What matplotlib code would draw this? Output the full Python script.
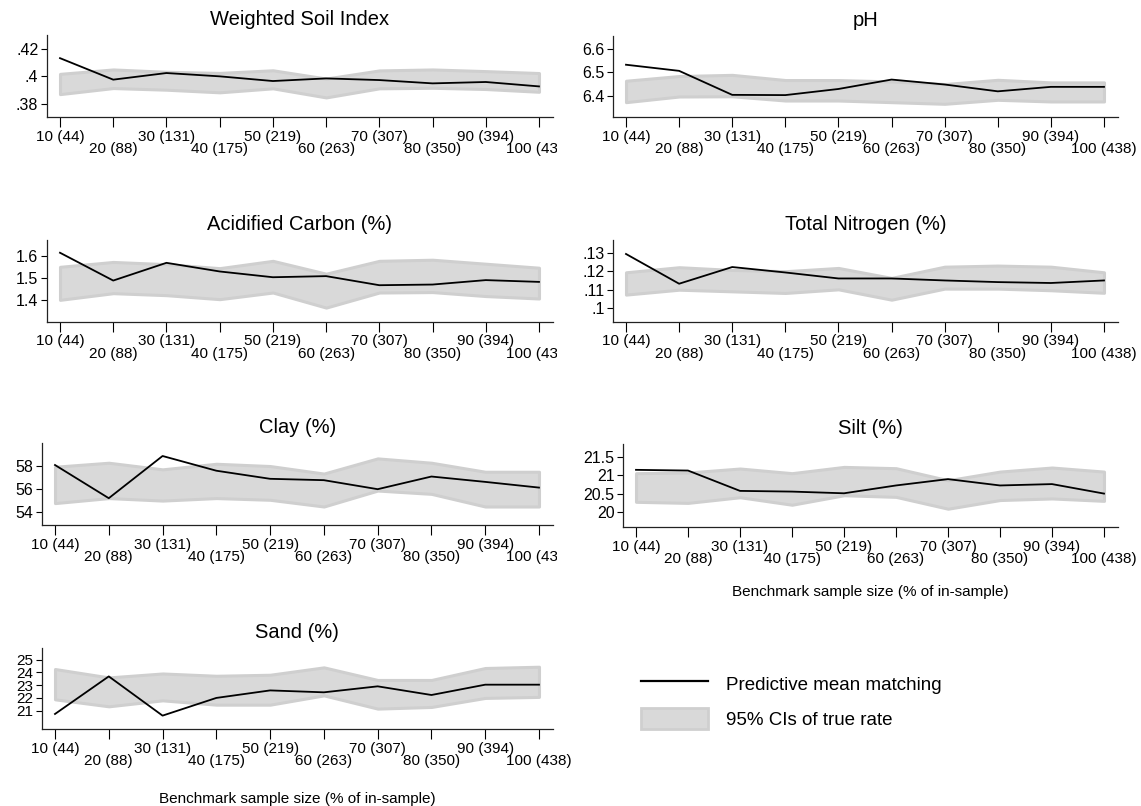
import matplotlib
matplotlib.use('Agg')
import matplotlib.pyplot as plt
from matplotlib.lines import Line2D
from matplotlib.patches import Patch
from matplotlib.transforms import Bbox, TransformedBbox

plt.rcParams['font.family'] = ['Liberation Sans', 'DejaVu Sans']

# benchmark sample sizes (% of in-sample, n)
pct = [10, 20, 30, 40, 50, 60, 70, 80, 90, 100]
pct_labels = ["10 (44)", "20 (88)", "30 (131)", "40 (175)", "50 (219)",
              "60 (263)", "70 (307)", "80 (350)", "90 (394)", "100 (438)"]

# predictive mean matching estimate and 95% CI of the true rate
wsi_pmm = [0.4132, 0.3976, 0.4024, 0.4000, 0.3966, 0.3985, 0.3973, 0.3949, 0.3959, 0.3927]
wsi_hi = [0.4018, 0.4050, 0.4033, 0.4025, 0.4044, 0.3984, 0.4043, 0.4050, 0.4038, 0.4024]
wsi_lo = [0.3871, 0.3915, 0.3903, 0.3884, 0.3913, 0.3847, 0.3913, 0.3917, 0.3908, 0.3888]

ph_pmm = [6.532, 6.506, 6.404, 6.403, 6.429, 6.469, 6.448, 6.419, 6.438, 6.438]
ph_hi = [6.464, 6.484, 6.489, 6.467, 6.467, 6.461, 6.450, 6.468, 6.457, 6.457]
ph_lo = [6.373, 6.397, 6.398, 6.380, 6.380, 6.373, 6.366, 6.383, 6.376, 6.376]

ac_pmm = [1.6135, 1.488, 1.568, 1.529, 1.503, 1.508, 1.467, 1.470, 1.490, 1.482]
ac_hi = [1.550, 1.572, 1.562, 1.544, 1.577, 1.519, 1.577, 1.582, 1.564, 1.546]
ac_lo = [1.401, 1.431, 1.422, 1.404, 1.434, 1.366, 1.434, 1.436, 1.418, 1.407]

tn_pmm = [0.1296, 0.1132, 0.1224, 0.1194, 0.1161, 0.1161, 0.1150, 0.1141, 0.1136, 0.1150]
tn_hi = [0.1195, 0.1223, 0.1208, 0.1201, 0.1219, 0.1164, 0.1226, 0.1232, 0.1226, 0.1195]
tn_lo = [0.1072, 0.1099, 0.1090, 0.1081, 0.1101, 0.1044, 0.1105, 0.1105, 0.1096, 0.1082]

clay_pmm = [58.09, 55.18, 58.88, 57.59, 56.88, 56.76, 55.97, 57.08, 56.61, 56.11]
clay_hi = [57.94, 58.29, 57.71, 58.20, 58.00, 57.34, 58.67, 58.29, 57.50, 57.50]
clay_lo = [54.75, 55.19, 54.97, 55.19, 55.04, 54.45, 55.85, 55.56, 54.45, 54.45]

silt_pmm = [21.143, 21.124, 20.573, 20.554, 20.508, 20.720, 20.892, 20.720, 20.757, 20.500]
silt_hi = [21.053, 21.071, 21.179, 21.053, 21.223, 21.188, 20.862, 21.096, 21.206, 21.096]
silt_lo = [20.277, 20.248, 20.401, 20.198, 20.455, 20.411, 20.090, 20.325, 20.368, 20.303]

sand_pmm = [20.74, 23.69, 20.61, 22.00, 22.59, 22.44, 22.91, 22.23, 23.04, 23.04]
sand_hi = [24.27, 23.61, 23.92, 23.74, 23.82, 24.40, 23.41, 23.41, 24.35, 24.45]
sand_lo = [21.89, 21.34, 21.81, 21.47, 21.47, 22.20, 21.16, 21.29, 22.00, 22.08]

W, H = 1141, 806
fig = plt.figure(figsize=(W / 100, H / 100), dpi=100)
fig.patch.set_facecolor('white')

XLIM = (7.5, 102.6)


def px_axes(x10, x100, top, bottom):
    # axes rectangle from pixel positions of the 10 and 100 ticks
    unit = (x100 - x10) / 90.0
    left = x10 - (10 - XLIM[0]) * unit
    right = x100 + (XLIM[1] - 100) * unit
    return fig.add_axes([left / W, 1 - bottom / H, (right - left) / W, (bottom - top) / H])


def panel(ax, title, pmm, lo, hi, yticks, yticklabels, ylim, clip_right=None,
          xlabel=None, xlabelpad=14, ysize=11.5):
    ax.fill_between(pct, lo, hi, facecolor='#d9d9d9', edgecolor='#cfcfcf',
                    linewidth=2.2, joinstyle='round', zorder=1)
    ax.plot(pct, pmm, color='black', linewidth=1.3, zorder=2)
    ax.set_xlim(*XLIM)
    ax.set_ylim(*ylim)
    ax.set_title(title, fontsize=14.5, pad=7)
    ax.spines['top'].set_visible(False)
    ax.spines['right'].set_visible(False)
    for s in ('left', 'bottom'):
        ax.spines[s].set_linewidth(0.9)
        ax.spines[s].set_color('#222222')
    ax.set_yticks(yticks)
    ax.set_yticklabels(yticklabels)
    ax.tick_params(axis='y', length=4.5, width=0.8, pad=1.5, labelsize=ysize)
    # odd sizes on the first row, even sizes staggered below
    ax.set_xticks(pct[0::2])
    ax.set_xticklabels(pct_labels[0::2])
    ax.set_xticks(pct[1::2], minor=True)
    ax.set_xticklabels(pct_labels[1::2], minor=True)
    ax.tick_params(axis='x', which='both', length=7, width=0.8, labelsize=11)
    ax.tick_params(axis='x', which='major', pad=2.0)
    ax.tick_params(axis='x', which='minor', pad=11.0)
    if clip_right is not None:
        box = TransformedBbox(Bbox([[0, 0], [clip_right / W, 1]]), fig.transFigure)
        for lab in ax.get_xticklabels(minor=True):
            lab.set_clip_box(box)
            lab.set_clip_on(True)
    if xlabel:
        ax.set_xlabel(xlabel, fontsize=11, labelpad=xlabelpad)


ax1 = px_axes(60, 539, 35, 117)
panel(ax1, "Weighted Soil Index", wsi_pmm, wsi_lo, wsi_hi,
      [0.38, 0.40, 0.42], [".38", ".4", ".42"], (0.3705, 0.430), clip_right=557)

ax2 = px_axes(626, 1104, 36, 117)
panel(ax2, "pH", ph_pmm, ph_lo, ph_hi,
      [6.4, 6.5, 6.6], ["6.4", "6.5", "6.6"], (6.310, 6.654))

ax3 = px_axes(60, 539, 240, 322)
panel(ax3, "Acidified Carbon (%)", ac_pmm, ac_lo, ac_hi,
      [1.4, 1.5, 1.6], ["1.4", "1.5", "1.6"], (1.301, 1.671), clip_right=557)

ax4 = px_axes(626, 1104, 240, 322)
panel(ax4, "Total Nitrogen (%)", tn_pmm, tn_lo, tn_hi,
      [0.10, 0.11, 0.12, 0.13], [".1", ".11", ".12", ".13"], (0.0921, 0.1373))

ax5 = px_axes(55, 539, 443, 525)
panel(ax5, "Clay (%)", clay_pmm, clay_lo, clay_hi,
      [54, 56, 58], ["54", "56", "58"], (52.83, 60.02), clip_right=557)

ax6 = px_axes(636, 1104, 444, 527)
panel(ax6, "Silt (%)", silt_pmm, silt_lo, silt_hi,
      [20, 20.5, 21, 21.5], ["20", "20.5", "21", "21.5"], (19.595, 21.843),
      xlabel="Benchmark sample size (% of in-sample)", xlabelpad=14)

ax7 = px_axes(55, 539, 648, 729)
panel(ax7, "Sand (%)", sand_pmm, sand_lo, sand_hi,
      [21, 22, 23, 24, 25], ["21", "22", "23", "24", "25"], (19.56, 25.92),
      xlabel="Benchmark sample size (% of in-sample)", xlabelpad=17, ysize=11)

handles = [Line2D([], [], color='black', linewidth=1.6),
           Patch(facecolor='#d9d9d9', edgecolor='#cfcfcf', linewidth=2)]
fig.legend(handles, ["Predictive mean matching", "95% CIs of true rate"],
           loc='upper left', bbox_to_anchor=(641 / W, 1 - 673 / H),
           frameon=False, fontsize=13.5, handlelength=3.6, handleheight=1.35,
           handletextpad=0.95, labelspacing=0.75, borderpad=0, borderaxespad=0)

fig.savefig('out.png', dpi=100)
